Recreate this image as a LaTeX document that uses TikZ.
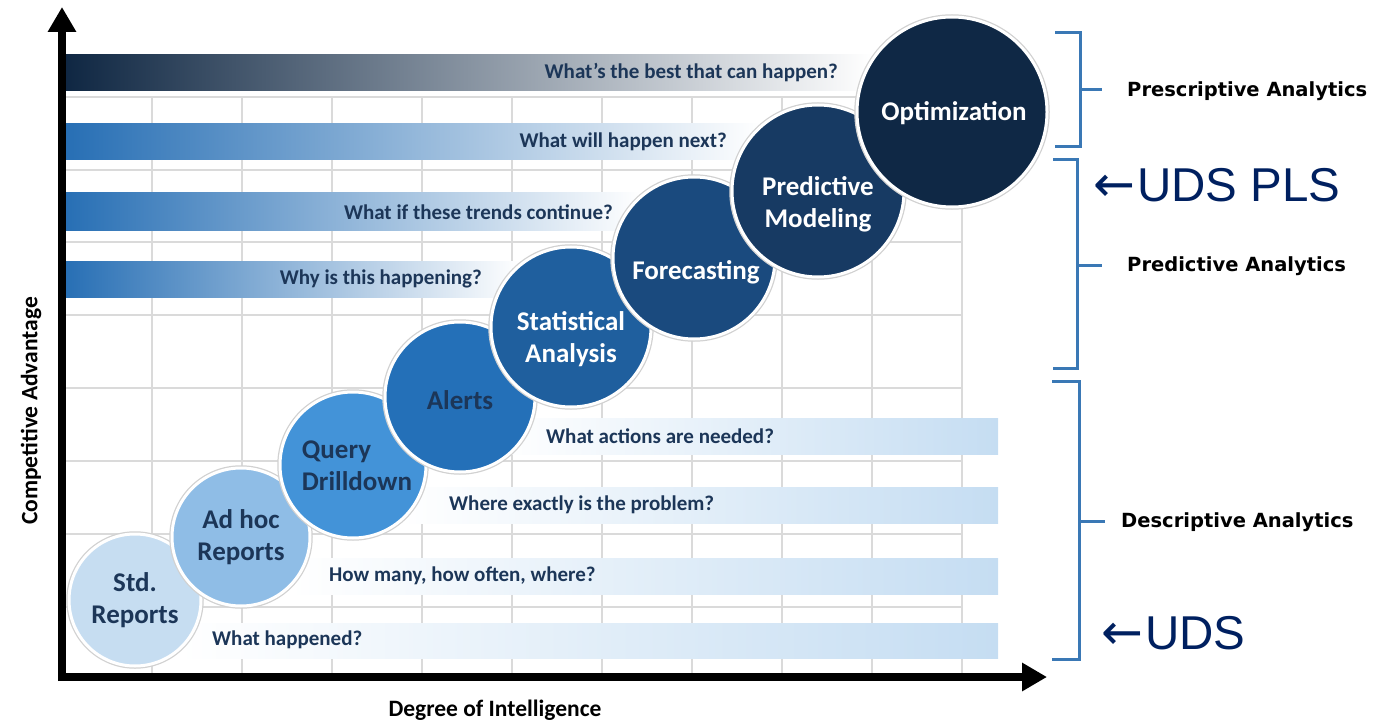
\documentclass[tikz,border=0pt]{standalone}
\usepackage{fontspec}
\setmainfont{Carlito}
\newfontfamily\groupfont{DejaVu Sans}
\newfontfamily\udsfont{Liberation Sans}
\usetikzlibrary{arrows.meta}

\definecolor{asknavy}{RGB}{28,54,88}
\definecolor{udsnavy}{RGB}{0,32,96}
\definecolor{bracketblue}{RGB}{58,120,181}
\definecolor{gridgray}{RGB}{218,218,218}
\definecolor{barnavy}{RGB}{14,38,66}
\definecolor{barblue}{RGB}{38,110,180}
\definecolor{barpale}{RGB}{197,221,242}
\definecolor{stdc}{RGB}{198,221,241}
\definecolor{adhocc}{RGB}{143,189,230}
\definecolor{queryc}{RGB}{67,147,216}
\definecolor{alertc}{RGB}{36,112,184}
\definecolor{statc}{RGB}{31,95,158}
\definecolor{forec}{RGB}{26,74,126}
\definecolor{predc}{RGB}{23,58,99}
\definecolor{optc}{RGB}{15,40,69}

\newcommand{\leftarr}{{\groupfont\fontsize{50}{50}\selectfont ←}\kern2pt}

\tikzset{
  stage/.style={circle, inner sep=0pt, minimum size=#1, draw=white,
    line width=3pt, preaction={draw=black!18, line width=5.5pt}},
  stagetext/.style={font=\bfseries\fontsize{27}{32}\selectfont,
    align=center, inner sep=0pt},
  ask/.style={font=\bfseries\fontsize{21}{24}\selectfont, text=asknavy,
    inner sep=0pt},
  group/.style={font=\groupfont\bfseries\fontsize{19.5}{22}\selectfont,
    anchor=west, inner sep=0pt},
  uds/.style={font=\udsfont\fontsize{47.5}{50}\selectfont, text=udsnavy,
    anchor=west, inner sep=0pt},
  axislabel/.style={font=\bfseries\fontsize{23.5}{26}\selectfont,
    inner sep=0pt},
  bracket/.style={draw=bracketblue, line width=3pt},
  axis/.style={line width=8pt, -{Triangle[length=25pt,width=27pt]}}
}

\begin{document}
\begin{tikzpicture}[x=1pt,y=-1pt]
  \useasboundingbox (0,0) rectangle (1389,722);

  % grid
  \foreach \gx in {152,242,...,962}
    \draw[gridgray, line width=1.5pt] (\gx,97) -- (\gx,677);
  \foreach \gy in {97,170,242,315,388,461,534,607}
    \draw[gridgray, line width=1.5pt] (62,\gy) -- (962,\gy);

  % questions, upper half
  \shade[left color=barnavy, right color=white] (62,55) rectangle (872,91);
  \shade[left color=barblue, right color=white] (62,124) rectangle (760,160);
  \shade[left color=barblue, right color=white] (62,193) rectangle (640,230);
  \shade[left color=barblue, right color=white] (62,261) rectangle (520,297);
  \node[ask, anchor=east] (askBest) at (838,73) {What’s the best that can happen?};
  \node[ask, anchor=east] (askNext) at (727,142) {What will happen next?};
  \node[ask, anchor=east] (askTrend) at (613,212) {What if these trends continue?};
  \node[ask, anchor=east] (askWhy) at (482,279) {Why is this happening?};

  % questions, lower half
  \shade[left color=white, right color=barpale] (500,418) rectangle (998,454);
  \shade[left color=white, right color=barpale] (400,487) rectangle (998,523);
  \shade[left color=white, right color=barpale] (290,558) rectangle (998,594);
  \shade[left color=white, right color=barpale] (180,623) rectangle (998,658);
  \node[ask, anchor=west] (askAct) at (546,436) {What actions are needed?};
  \node[ask, anchor=west] (askWhere) at (449,505) {Where exactly is the problem?};
  \node[ask, anchor=west] (askMany) at (329,576) {How many, how often, where?};
  \node[ask, anchor=west] (askHap) at (212,640) {What happened?};

  % axes
  \draw[axis] (62,681) -- (62,7);
  \draw[axis] (58,677) -- (1047,677);
  \node[axislabel, rotate=90] (yLab) at (31,411) {Competitive Advantage};
  \node[axislabel] (xLab) at (495,710) {Degree of Intelligence};

  % stages
  \node[stage=132pt, fill=stdc] (std) at (135,600) {};
  \node[stagetext, text=asknavy] (stdT) at (std) {Std.\\Reports};
  \node[stage=138pt, fill=adhocc] (adhoc) at (241,537) {};
  \node[stagetext, text=asknavy] (adhocT) at (adhoc) {Ad hoc\\Reports};
  \node[stage=146pt, fill=queryc] (query) at (353,465) {};
  \node[stagetext, text=asknavy, align=left] (queryT) at (357,466) {Query\\Drilldown};
  \node[stage=150pt, fill=alertc] (alert) at (460,397) {};
  \node[stagetext, text=asknavy] (alertT) at (460,400) {Alerts};
  \node[stage=160pt, fill=statc] (stat) at (571,327) {};
  \node[stagetext, text=white] (statT) at (571,339) {Statistical\\Analysis};
  \node[stage=162pt, fill=forec] (fore) at (694,258) {};
  \node[stagetext, text=white] (foreT) at (696,272) {Forecasting};
  \node[stage=172pt, fill=predc] (pred) at (818,191) {};
  \node[stagetext, text=white] (predT) at (818,204) {Predictive\\Modeling};
  \node[stage=190pt, fill=optc] (opt) at (952,112) {};
  \node[stagetext, text=white] (optT) at (954,113) {Optimization};

  % groups
  \draw[bracket] (1055,33) -- (1080,33) -- (1080,147) -- (1055,147);
  \draw[bracket] (1080,90) -- (1102,90);
  \draw[bracket] (1053,160) -- (1077,160) -- (1077,368) -- (1053,368);
  \draw[bracket] (1077,265) -- (1102,265);
  \draw[bracket] (1052,381) -- (1079,381) -- (1079,659) -- (1052,659);
  \draw[bracket] (1079,521) -- (1105,521);
  \node[group] (presc) at (1127,91) {Prescriptive Analytics};
  \node[group] (predic) at (1127,266) {Predictive Analytics};
  \node[group] (descr) at (1121,522) {Descriptive Analytics};
  \node[uds] (udsPls) at (1093,185) {\leftarr UDS PLS};
  \node[uds] (udsOnly) at (1101,633) {\leftarr UDS};

\end{tikzpicture}
\end{document}
